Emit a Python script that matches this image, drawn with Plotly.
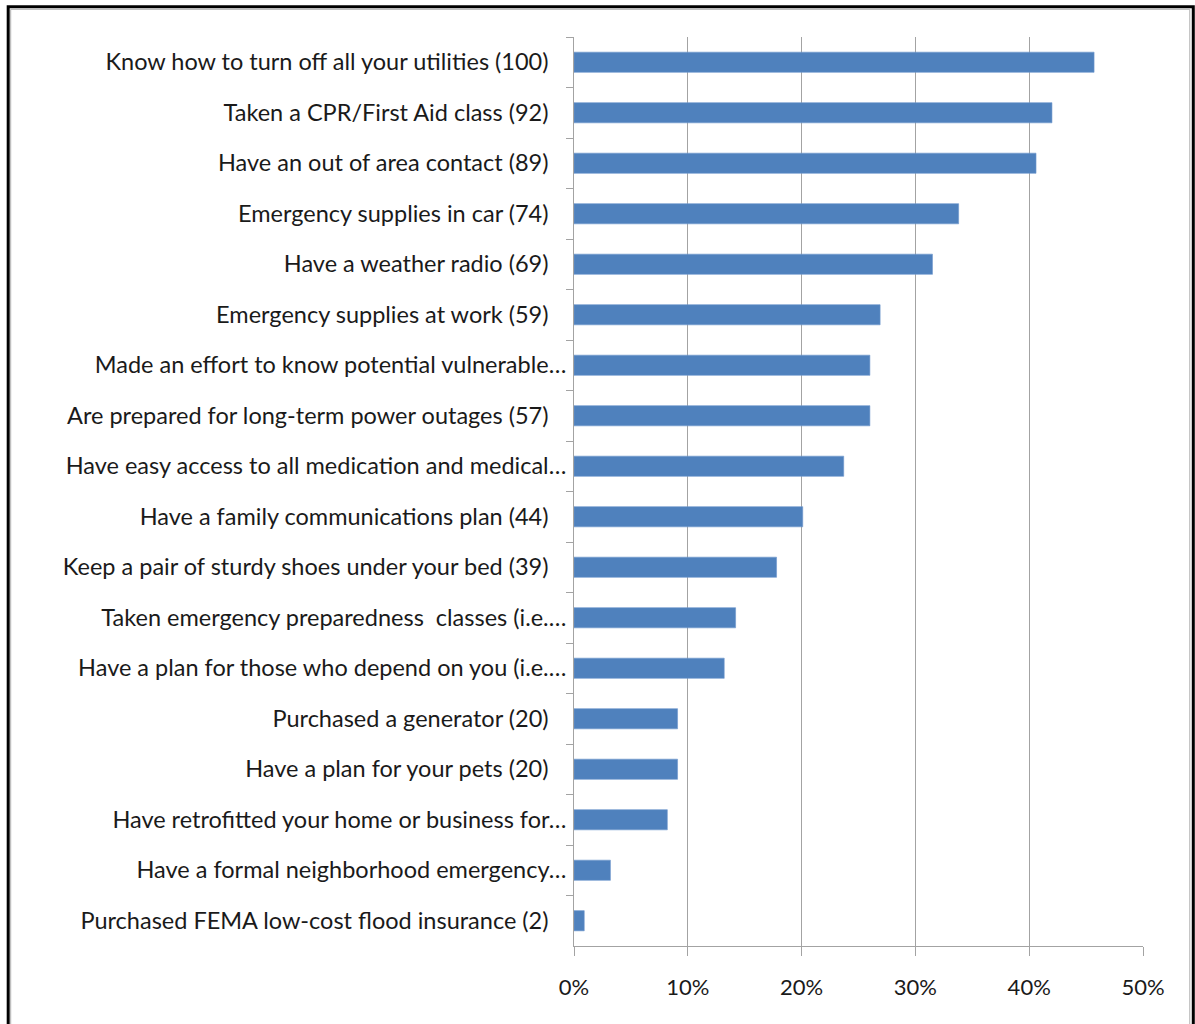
import plotly.graph_objects as go

# Share of respondents (count in parentheses) who report each preparedness action
actions = [
    "Know how to turn off all your utilities (100)",
    "Taken a CPR/First Aid class (92)",
    "Have an out of area contact (89)",
    "Emergency supplies in car (74)",
    "Have a weather radio (69)",
    "Emergency supplies at work (59)",
    "Made an effort to know potential vulnerable…",
    "Are prepared for long-term power outages (57)",
    "Have easy access to all medication and medical…",
    "Have a family communications plan (44)",
    "Keep a pair of sturdy shoes under your bed (39)",
    "Taken emergency preparedness  classes (i.e.…",
    "Have a plan for those who depend on you (i.e.…",
    "Purchased a generator (20)",
    "Have a plan for your pets (20)",
    "Have retrofitted your home or business for…",
    "Have a formal neighborhood emergency…",
    "Purchased FEMA low-cost flood insurance (2)",
]
share_pct = [45.7, 42.0, 40.6, 33.8, 31.5, 26.9, 26.0, 26.0, 23.7,
             20.1, 17.8, 14.2, 13.2, 9.1, 9.1, 8.2, 3.2, 0.9]
x_ticks = [0, 10, 20, 30, 40, 50]
x_tick_text = ["0%", "10%", "20%", "30%", "40%", "50%"]

W, H = 1195, 1024
L, R, T, B = 573.5, 52.3, 36.7, 78.0
PW = W - L - R
PH = H - T - B


def px_x(p):
    return (p - L) / PW


def px_y(p):
    return 1 - (p - T) / PH


# complete labels carry a trailing space; clipped ones (ending in "…") sit
# right against the axis
trail = "\u2002\u00a0"
y_labels = [a if a.endswith("…") else a + trail for a in actions]

family = "Lato, 'Open Sans', sans-serif"
y_font = dict(family=family, size=23.5, color="#1a1a1a")
x_font = dict(family=family, size=22, color="#1a1a1a")

fig = go.Figure(
    go.Bar(
        x=share_pct,
        y=y_labels,
        orientation="h",
        width=0.4,
        marker=dict(color="#4F81BD", line=dict(color="#6f97cc", width=0.6)),
        hoverinfo="x+y",
    )
)

fig.update_layout(
    width=W,
    height=H,
    margin=dict(l=L, r=R, t=T, b=B, autoexpand=False),
    paper_bgcolor="white",
    plot_bgcolor="white",
    font=y_font,
    showlegend=False,
    xaxis=dict(
        range=[0, 50],
        tickvals=x_ticks,
        ticktext=x_tick_text,
        showgrid=True,
        gridcolor="#a3a3a3",
        gridwidth=1,
        zeroline=False,
        showline=True,
        linecolor="#a3a3a3",
        linewidth=1,
        ticks="outside",
        ticklen=9,
        tickcolor="#a3a3a3",
        ticklabelstandoff=13,
        tickfont=x_font,
        automargin=False,
    ),
    yaxis=dict(
        type="category",
        categoryorder="array",
        categoryarray=y_labels,
        autorange="reversed",
        showgrid=False,
        zeroline=False,
        showline=True,
        linecolor="#a3a3a3",
        linewidth=1,
        ticks="outside",
        tickson="boundaries",
        ticklen=7,
        tickcolor="#a3a3a3",
        ticklabelstandoff=2,
        tickfont=y_font,
        automargin=False,
    ),
    shapes=[
        # outer black frame
        dict(type="rect", xref="paper", yref="paper",
             x0=px_x(7.5), x1=px_x(1193), y0=px_y(1040), y1=px_y(6.5),
             line=dict(color="black", width=3), fillcolor="rgba(0,0,0,0)",
             layer="above"),
        # thin grey inner edge
        dict(type="rect", xref="paper", yref="paper",
             x0=px_x(10), x1=px_x(1189.5), y0=px_y(1040), y1=px_y(9),
             line=dict(color="#b0b0b0", width=1), fillcolor="rgba(0,0,0,0)",
             layer="above"),
    ],
)

fig.write_html("out.html")
